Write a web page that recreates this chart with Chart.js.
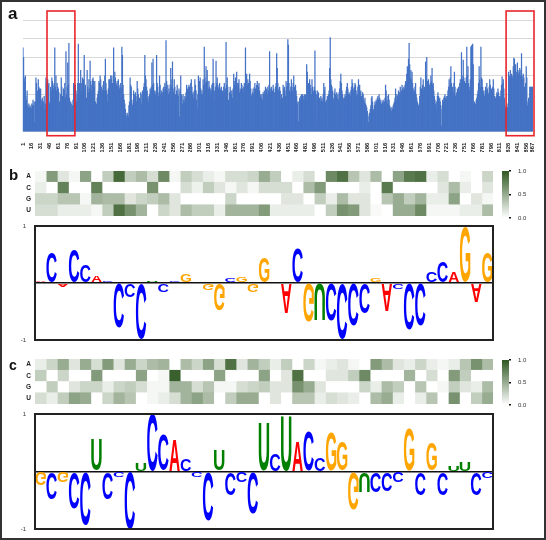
<!DOCTYPE html>
<html>
<head>
<meta charset="utf-8">
<script src="https://cdn.jsdelivr.net/npm/chart.js@4.4.1/dist/chart.umd.min.js"></script>
<style>
  body { margin: 0; background: #fff; font-family: "Liberation Sans", Arial, sans-serif; }
  canvas { position: absolute; }
  #frame { position: absolute; left: 0; top: 0; width: 546px; height: 540px; box-sizing: border-box; border: 2px solid #333; pointer-events: none; }
  .tag { position: absolute; font-weight: bold; color: #111; line-height: 1; }
</style>
</head>
<body>
<canvas id="cov" width="546" height="152" style="left:0;top:0"></canvas>
<canvas id="heatB" width="493" height="45" style="left:0;top:171px"></canvas>
<canvas id="barB" width="40" height="53" style="left:502px;top:168px"></canvas>
<canvas id="logoB" width="495" height="122" style="left:0;top:222px"></canvas>
<canvas id="heatC" width="493" height="45" style="left:0;top:359px"></canvas>
<canvas id="barC" width="40" height="51" style="left:502px;top:357px"></canvas>
<canvas id="logoC" width="495" height="123" style="left:0;top:410px"></canvas>
<div class="tag" style="left:8px;top:5px;font-size:17px">a</div>
<div class="tag" style="left:9px;top:167px;font-size:15px">b</div>
<div class="tag" style="left:9px;top:358px;font-size:14px">c</div>
<div id="frame"></div>
<script>
// panel a: per-position values
const coverage = [
  4.5,4.0,2.9,2.7,3.0,1.9,1.7,2.2,1.4,1.3,1.5,1.3,1.4,1.3,1.2,
  1.5,1.4,1.7,1.4,1.6,0.5,1.6,2.9,2.6,1.8,2.2,2.8,2.4,2.3,1.9,
  2.3,1.7,1.4,1.8,1.3,1.6,1.9,1.2,1.5,2.9,2.6,1.8,2.8,2.5,2.6,
  1.5,1.6,2.4,2.2,2.9,2.7,2.5,2.3,2.6,4.5,2.4,3.0,2.2,2.6,2.4,
  2.3,2.1,1.6,1.3,2.0,2.9,2.4,1.9,1.8,2.3,2.2,2.6,1.8,4.3,2.0,
  2.4,3.7,2.5,4.75,1.8,0.7,1.6,1.5,1.3,1.4,1.7,2.6,2.5,2.4,2.5,
  2.2,1.6,2.0,2.6,4.7,2.3,2.6,2.0,3.3,2.6,2.2,2.9,2.4,2.8,4.1,
  2.3,2.5,0.5,1.8,3.3,2.4,2.1,2.8,2.3,3.8,2.7,2.2,2.5,2.8,2.9,
  2.7,2.4,2.7,1.6,1.2,1.5,1.8,2.0,2.2,2.7,2.6,3.0,2.8,2.4,2.3,
  2.2,2.5,2.7,2.2,3.0,3.9,2.6,2.2,2.0,1.6,2.3,2.8,2.8,2.6,3.0,
  2.8,3.0,2.6,2.5,4.5,2.8,3.2,2.9,2.6,2.5,2.7,2.4,2.8,2.5,2.3,
  2.4,2.6,2.3,4.55,4.1,2.5,2.0,1.7,1.5,1.2,0.9,0.8,1.0,0.9,0.8,
  1.4,1.6,2.9,2.5,2.4,1.7,1.4,1.5,2.2,2.0,1.8,2.1,1.9,1.6,2.7,
  2.3,2.0,1.6,1.8,1.7,2.1,1.5,2.0,2.2,1.9,2.4,2.6,4.1,3.0,2.8,
  2.4,2.2,1.8,1.6,1.9,2.0,2.3,2.2,2.4,3.7,2.5,3.9,2.6,2.2,2.1,
  2.0,2.2,4.1,2.6,2.4,1.9,2.1,3.0,2.5,2.0,2.2,1.9,2.1,2.3,2.4,
  2.2,2.6,2.4,4.9,2.7,2.2,2.5,2.0,2.3,2.1,2.5,3.4,2.4,2.8,3.75,
  2.3,2.1,2.8,2.4,2.0,1.7,2.2,2.5,2.0,1.9,2.3,0.8,2.2,3.0,2.0,
  1.9,1.5,2.0,1.7,1.6,1.9,1.8,2.1,2.5,2.3,2.2,2.4,2.5,2.4,2.2,
  2.6,2.8,2.4,2.0,2.1,1.8,2.2,2.8,2.5,2.2,1.7,1.2,2.0,3.0,2.4,
  2.7,2.9,2.3,2.0,2.2,2.0,2.8,2.5,4.55,2.9,2.6,3.5,2.7,3.3,2.7,
  2.3,2.7,2.4,2.0,2.3,2.2,2.5,2.6,3.9,2.6,2.2,1.7,2.4,3.8,2.6,
  2.9,2.5,2.3,2.4,2.6,2.3,2.2,2.4,2.1,2.2,2.0,2.4,2.6,2.1,2.3,
  4.8,2.5,2.9,2.4,1.7,1.5,2.1,2.4,2.2,2.0,2.2,1.8,2.3,3.1,2.5,
  2.7,2.9,2.4,3.2,2.6,2.4,2.6,2.8,2.1,2.3,2.2,2.6,2.5,2.3,2.1,
  2.4,2.6,2.2,4.5,2.8,3.1,2.5,2.8,2.6,2.4,3.1,2.7,2.3,1.9,2.0,
  2.1,2.3,2.0,2.4,2.6,2.3,2.2,2.5,2.7,2.5,2.4,2.6,2.2,1.9,2.0,
  1.8,2.0,1.7,2.1,2.0,2.2,1.9,2.4,2.1,2.3,2.0,2.4,2.2,2.5,4.3,
  2.3,2.1,2.4,2.0,2.2,2.5,2.3,2.1,1.9,2.4,2.6,4.2,3.4,2.6,2.2,
  2.3,2.4,2.2,1.7,2.0,1.5,1.8,2.5,2.3,2.4,2.2,1.9,2.7,2.4,2.6,
  4.95,4.65,2.6,2.2,2.1,2.4,2.8,2.4,2.2,2.6,3.0,2.4,2.3,2.5,2.2,
  1.9,1.5,1.6,0.55,1.6,1.8,1.7,1.9,2.0,1.8,2.0,1.9,1.7,2.0,1.8,
  2.0,1.8,3.6,3.2,2.5,2.6,2.4,2.8,2.5,2.3,2.0,2.8,2.4,2.1,2.2,
  2.4,4.35,2.2,0.7,2.0,2.2,1.9,2.1,1.7,1.8,1.6,1.9,1.7,1.8,1.6,
  2.0,2.6,2.2,2.4,1.6,1.4,1.7,1.9,1.8,2.0,2.2,3.4,5.05,2.8,2.5,
  2.4,2.2,1.8,1.7,2.1,2.3,2.0,1.9,2.1,1.8,2.0,1.7,2.1,2.3,2.7,
  3.1,2.6,2.2,2.0,1.8,1.7,1.8,2.0,1.9,2.2,2.4,2.6,2.3,2.0,2.1,
  2.0,1.9,2.2,2.4,2.8,2.6,2.3,2.2,2.4,2.6,2.5,2.2,1.9,2.0,2.4,
  2.8,2.4,2.5,2.1,2.2,1.9,1.8,2.1,2.0,1.7,1.6,1.8,1.5,1.4,1.3,
  1.1,0.9,0.5,0.8,1.0,1.2,1.4,1.8,1.9,1.6,1.2,1.1,1.4,1.6,1.5,
  1.7,1.6,1.8,1.9,1.7,2.0,1.8,1.6,1.7,1.5,1.4,1.6,1.7,1.5,1.6,
  1.8,2.5,2.2,1.7,1.5,1.9,2.0,1.7,1.4,1.2,1.3,1.1,1.3,1.2,1.4,
  1.5,1.6,1.8,2.3,2.0,1.7,1.9,2.0,2.2,1.8,2.1,2.4,2.0,2.2,2.5,
  2.3,2.2,2.4,2.3,2.5,2.7,2.6,3.1,3.5,3.3,3.9,4.75,3.6,2.9,3.3,
  2.8,3.2,2.6,2.3,2.1,2.2,2.4,2.6,2.0,1.8,1.6,1.5,1.4,1.3,1.9,
  2.4,2.9,2.3,2.0,2.5,2.8,2.2,2.4,2.1,3.75,3.0,4.0,2.7,2.4,2.8,
  2.3,2.5,2.6,3.0,2.7,3.4,2.5,2.6,2.2,1.9,1.7,1.5,1.3,1.6,1.9,
  2.1,1.9,1.7,1.8,1.6,1.4,0.3,1.2,1.7,1.6,1.8,1.9,2.0,1.8,1.7,
  1.9,1.9,2.2,2.4,2.8,2.5,2.9,3.5,2.6,2.2,2.4,2.1,2.6,3.2,2.4,
  1.9,2.0,2.1,2.3,2.1,2.4,2.2,2.6,2.8,2.4,4.25,3.0,2.8,3.85,2.9,
  2.7,2.4,2.6,2.9,4.55,3.0,3.5,2.6,2.4,2.2,2.8,4.55,4.6,4.65,4.7,
  3.6,1.5,1.6,1.4,1.5,1.7,1.8,2.0,2.2,2.6,3.5,2.8,2.4,4.55,2.9,
  2.8,2.4,2.2,2.0,1.9,2.2,2.4,2.2,2.6,2.3,2.1,2.0,2.4,2.8,2.5,
  2.2,2.3,2.1,2.4,2.8,2.3,1.9,1.7,1.8,1.9,2.1,2.0,2.3,2.1,1.9,
  1.8,1.9,2.2,2.5,2.95,2.6,2.8,2.3,1.8,1.4,1.25,1.3,1.2,1.3,1.5,
  3.2,2.9,3.0,3.3,2.8,3.1,3.0,2.9,3.5,3.95,3.9,3.4,3.6,3.2,3.0,
  3.7,3.3,3.1,3.2,3.4,3.0,3.3,4.2,3.0,2.8,3.1,2.9,2.4,1.5,2.6,
  3.5,2.9,1.4,1.6,1.8,1.7,2.4,2.4,2.3,2.4,2.4,2.4
];
const xTickLabels = [1,16,31,46,61,76,91,106,121,136,151,166,181,196,211,226,241,256,271,286,
  301,316,331,346,361,376,391,406,421,436,451,466,481,496,511,526,541,556,571,586,601,616,631,
  646,661,676,691,706,721,736,751,766,781,796,811,826,841,856,867];
const highlightWindows = [[44, 87], [824, 867]];

// panels b and c: heatmap rows (A, C, G, U) and logo letters/heights
const baseNames = ['A', 'C', 'G', 'U'];
const heatB = [
  [0.05,0.6,0.15,0.05,0.55,0,0.3,0.9,0.3,0.4,0.2,0.7,0.05,0.3,0.2,0.1,0.05,0.2,0.2,0.25,0.5,0.3,0,0.1,0.2,0,0.7,0.85,0.35,0.15,0.4,0,0.55,0.8,0.85,0.1,0.2,0,0.05,0,0.25],
  [0.1,0,0.75,0,0,0.75,0,0,0,0,0.65,0,0,0.2,0.08,0.3,0.15,0.05,0.15,0.05,0.2,0.2,0.2,0,0.4,0.6,0,0,0,0.1,0,0.8,0,0,0,0,0.15,0.4,0.1,0,0.15],
  [0.25,0.25,0.35,0.35,0.05,0.45,0.4,0.4,0.15,0.25,0.3,0.4,0.15,0,0,0,0,0.25,0,0,0,0,0.15,0.15,0,0.3,0.1,0.4,0.15,0.15,0,0.35,0.5,0.3,0.45,0.1,0.1,0.55,0,0.15,0.05],
  [0.2,0.2,0.1,0.1,0.1,0.05,0.3,0.85,0.65,0.45,0,0.25,0.15,0.4,0.3,0.3,0.1,0.45,0.45,0.45,0.6,0.1,0.1,0.1,0.1,0,0.3,0.65,0.6,0.15,0.03,0,0.5,0.5,0.7,0.05,0.05,0.05,0.1,0.1,0.4]
];
const heatC = [
  [0.1,0.25,0.5,0.15,0.5,0.2,0.6,0.15,0.5,0.25,0.4,0.45,0,0.4,0.25,0.55,0.2,0.85,0.15,0.45,0.3,0.1,0.3,0,0.25,0.05,0.1,0.15,0.05,0,0.6,0.4,0.15,0.1,0.25,0.1,0.05,0.1,0.35,0.65,0.4],
  [0.3,0,0.25,0,0,0.6,0,0,0,0.55,0,0.05,0.95,0,0,0,0.55,0,0,0,0.55,0,0.15,0.85,0,0,0.15,0.15,0.3,0.7,0,0,0,0.45,0,0.2,0,0.6,0.3,0,0],
  [0,0.3,0,0.15,0.25,0.25,0.1,0.25,0.3,0.2,0.05,0.05,0.45,0.45,0.2,0.35,0.05,0.05,0.2,0.25,0.3,0.15,0.15,0.65,0.5,0.15,0,0,0,0.25,0.1,0.4,0.3,0,0.35,0,0.05,0.3,0.15,0.1,0.4],
  [0.2,0.1,0.3,0.55,0.5,0,0.25,0.45,0.35,0,0.05,0.1,0.2,0.45,0.55,0.4,0,0.3,0.5,0.5,0,0.15,0,0.35,0.35,0.1,0.2,0.15,0.1,0,0.4,0.5,0.1,0,0.1,0.35,0,0.65,0,0.3,0.5]
];
const logoBLetters = 'ACACCACCCCUCCGCGGCGGGGACGUCCCCGACCCCCAGAG';
const logoBHeights = [0.04,0.55,-0.06,0.6,0.31,0.13,0.03,-0.8,-0.25,-0.98,0.04,-0.16,0.03,0.16,0,-0.13,-0.48,0.08,0.1,-0.16,
  0.46,0.02,-0.54,0.61,-0.67,-0.65,-0.65,-0.99,-0.74,-0.54,0.08,-0.48,-0.1,-0.83,-0.74,0.19,0.37,0.19,0.98,-0.33,0.54];
const logoCLetters = 'GCGCCUCCCUCCACCCUCCCUCUACCGGGUCCCGCGCUUCC';
const logoCHeights = [-0.23,-0.48,-0.19,-0.63,-0.92,0.55,-0.48,-0.1,-1.0,0.14,1.0,0.64,0.55,0.22,-0.1,-0.86,0.37,-0.39,-0.19,-0.72,
  0.84,0.31,0.97,0.52,0.69,0.25,0.68,0.52,-0.66,-0.34,-0.36,-0.34,-0.19,0.74,-0.39,0.49,-0.39,0.1,0.16,-0.39,-0.13];

const letterColors = { A: '#ff0000', C: '#0000ff', G: '#ffa500', U: '#008000' };
const lowRgb = [255, 255, 255], highRgb = [48, 88, 34];

function shade(v) {
  const c = lowRgb.map((l, i) => Math.round(l + (highRgb[i] - l) * v));
  return 'rgb(' + c.join(',') + ')';
}

const quiet = { legend: { display: false }, tooltip: { enabled: false } };

// vertical axes should not push the plot area in for their edge labels
function noEdgePad(width) {
  return s => { s.width = width; s.paddingTop = 0; s.paddingBottom = 0; };
}

// ---- panel a ----
const windowBoxes = {
  id: 'windowBoxes',
  afterDatasetsDraw(chart) {
    const { ctx, scales: { x, y } } = chart;
    const half = (x.getPixelForValue(1) - x.getPixelForValue(0)) / 2;
    ctx.save();
    ctx.strokeStyle = '#e8262b';
    ctx.lineWidth = 1.6;
    highlightWindows.forEach(([s, e]) => {
      const l = x.getPixelForValue(s - 1) - half - 1;
      const r = x.getPixelForValue(e - 1) + half + 1;
      const t = y.getPixelForValue(y.max) - 9;
      const b = y.getPixelForValue(0) + 4;
      ctx.strokeRect(l, t, r - l, b - t);
    });
    ctx.restore();
  }
};

new Chart(document.getElementById('cov'), {
  type: 'bar',
  data: {
    labels: coverage.map((_, i) => i + 1),
    datasets: [{ data: coverage, backgroundColor: '#4472c4', barPercentage: 1, categoryPercentage: 1, borderWidth: 0 }]
  },
  options: {
    responsive: false, animation: false, plugins: quiet,
    layout: { padding: { left: 22.7, right: 13, top: 20, bottom: 0 } },
    scales: {
      x: {
        grid: { display: false }, border: { display: false },
        ticks: {
          autoSkip: false, minRotation: 90, maxRotation: 90, padding: 3,
          font: { size: 6, weight: 'bold' }, color: '#222',
          callback: (v, i) => xTickLabels.includes(i + 1) ? String(i + 1) : null
        },
        afterFit: s => { s.height = 20.3; }
      },
      y: {
        min: 0, max: 6,
        ticks: { display: false, stepSize: 1 },
        grid: { color: '#d9d9d9', drawTicks: false },
        border: { display: false },
        afterFit: noEdgePad(0)
      }
    }
  },
  plugins: [windowBoxes]
});

// ---- heatmaps ----
function heatmap(id, rows) {
  const datasets = rows[0].map((_, k) => ({
    data: baseNames.map(() => [k, k + 1]),
    backgroundColor: rows.map(r => shade(r[k])),
    grouped: false, barPercentage: 1, categoryPercentage: 1, borderWidth: 0
  }));
  new Chart(document.getElementById(id), {
    type: 'bar',
    data: { labels: baseNames, datasets },
    options: {
      indexAxis: 'y', responsive: false, animation: false, plugins: quiet,
      layout: { padding: 0 },
      scales: {
        x: { display: false, min: 0, max: rows[0].length },
        y: {
          grid: { display: false, drawTicks: false }, border: { display: false },
          ticks: { font: { size: 6.5, weight: 'bold' }, color: '#222', padding: 4 },
          afterFit: noEdgePad(35)
        }
      }
    }
  });
}

function colorbar(id) {
  new Chart(document.getElementById(id), {
    type: 'bar',
    data: {
      labels: [''],
      datasets: [{
        data: [1], barPercentage: 1, categoryPercentage: 1, borderWidth: 0,
        backgroundColor: c => {
          const a = c.chart.chartArea;
          if (!a) return null;
          const g = c.chart.ctx.createLinearGradient(0, a.bottom, 0, a.top);
          g.addColorStop(0, shade(0));
          g.addColorStop(0.5, shade(0.5));
          g.addColorStop(1, shade(1));
          return g;
        }
      }]
    },
    options: {
      responsive: false, animation: false, plugins: quiet,
      layout: { padding: { top: 3, bottom: 3, left: 0, right: 0 } },
      scales: {
        x: { display: false },
        y: {
          position: 'right', min: 0, max: 1,
          ticks: { stepSize: 0.5, callback: v => v.toFixed(1), font: { size: 6 }, color: '#333', padding: 7 },
          grid: { drawOnChartArea: false, tickLength: 2, color: '#111', lineWidth: 1.5 },
          border: { display: false },
          afterFit: noEdgePad(33)
        }
      }
    }
  });
}

// ---- logos ----
const glyphFont = 'bold 100px "Liberation Sans", Arial, sans-serif';

const letterPainter = {
  id: 'letterPainter',
  afterDatasetsDraw(chart) {
    const { ctx, chartArea: a } = chart;
    const letters = chart.data.datasets[0].letters;
    const meta = chart.getDatasetMeta(0);
    ctx.save();
    ctx.font = glyphFont;
    ctx.textBaseline = 'alphabetic';
    ctx.textAlign = 'left';
    meta.data.forEach((bar, i) => {
      const p = bar.getProps(['x', 'y', 'base', 'width']);
      const H = Math.abs(p.base - p.y);
      if (H < 0.2) return;
      const ch = letters[i];
      const m = ctx.measureText(ch);
      const xL = -m.actualBoundingBoxLeft, xR = m.actualBoundingBoxRight;
      const yT = -m.actualBoundingBoxAscent, yB = m.actualBoundingBoxDescent;
      const W = p.width * 0.94;
      const L = p.x - W / 2;
      const T = Math.min(p.y, p.base);
      const sx = W / (xR - xL), sy = H / (yB - yT);
      ctx.save();
      ctx.fillStyle = letterColors[ch];
      if (p.y <= p.base) {
        ctx.translate(L - xL * sx, T - yT * sy);
        ctx.scale(sx, sy);
      } else {
        ctx.translate(L - xL * sx, T + yB * sy);
        ctx.scale(sx, -sy);
      }
      ctx.fillText(ch, 0, 0);
      ctx.restore();
    });
    ctx.strokeStyle = '#222';
    ctx.lineWidth = 2;
    ctx.strokeRect(a.left, a.top, a.right - a.left, a.bottom - a.top);
    ctx.restore();
  }
};

function logo(id, letters, heights) {
  new Chart(document.getElementById(id), {
    type: 'bar',
    data: {
      labels: heights.map((_, i) => i + 1),
      datasets: [{ data: heights, letters: letters.split(''), backgroundColor: 'rgba(0,0,0,0)', barPercentage: 1, categoryPercentage: 1, borderWidth: 0 }]
    },
    options: {
      responsive: false, animation: false, plugins: quiet,
      layout: { padding: { top: 4, bottom: 4, left: 0, right: 2 } },
      scales: {
        x: { display: false },
        y: {
          min: -1, max: 1,
          ticks: { stepSize: 1, callback: v => v === 0 ? '' : String(v), font: { size: 6 }, color: '#333', padding: 9 },
          grid: { drawTicks: false, color: c => c.tick && c.tick.value === 0 ? '#111' : 'rgba(0,0,0,0)', lineWidth: 1.5 },
          border: { display: false },
          afterFit: noEdgePad(35)
        }
      }
    },
    plugins: [letterPainter]
  });
}

heatmap('heatB', heatB);
colorbar('barB');
logo('logoB', logoBLetters, logoBHeights);
heatmap('heatC', heatC);
colorbar('barC');
logo('logoC', logoCLetters, logoCHeights);
</script>
</body>
</html>
